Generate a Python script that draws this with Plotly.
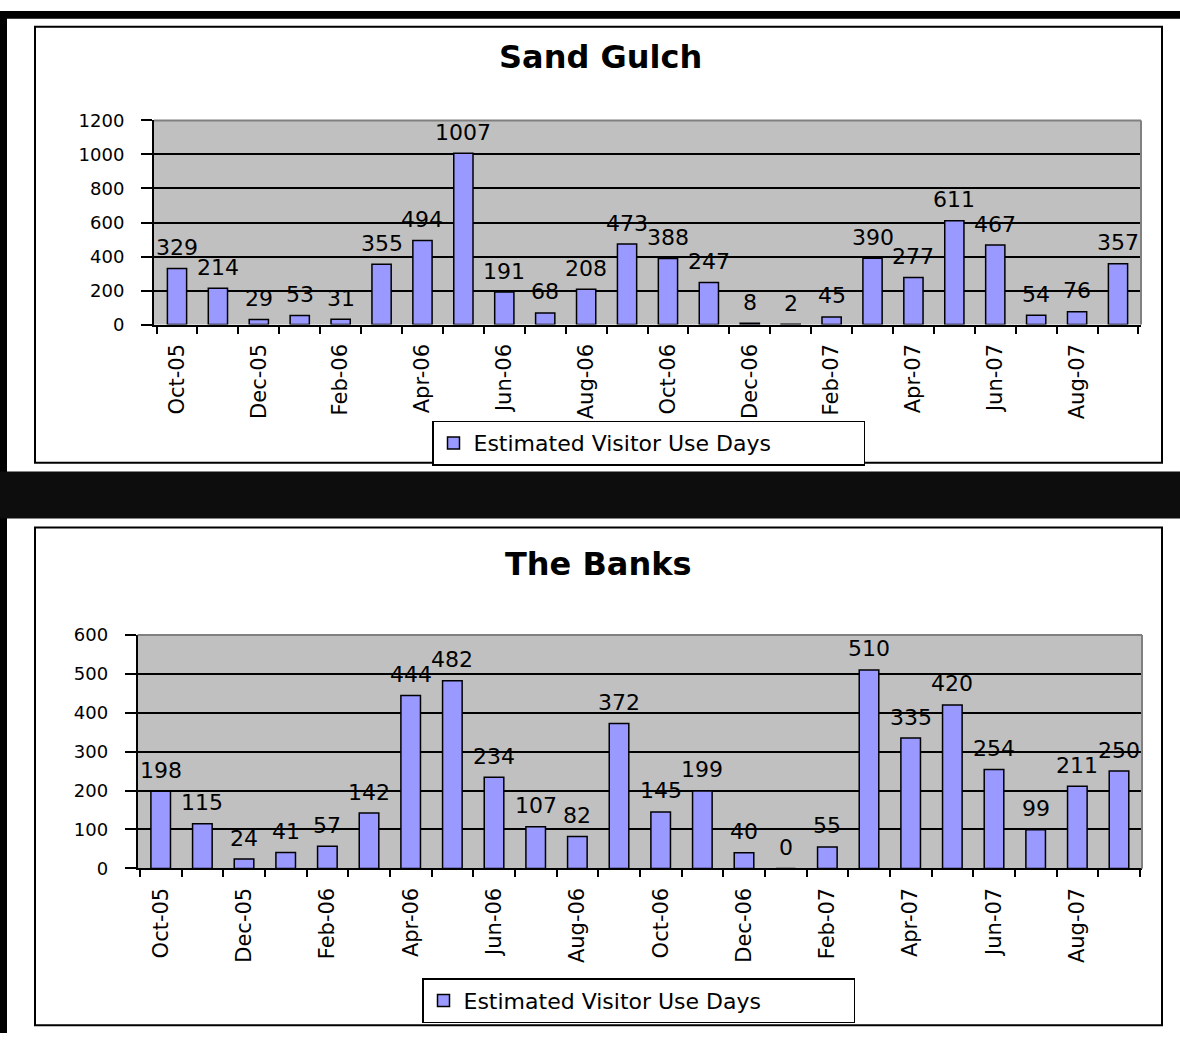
import plotly.graph_objects as go

months = ["Oct-05", "Nov-05", "Dec-05", "Jan-06", "Feb-06", "Mar-06", "Apr-06", "May-06",
          "Jun-06", "Jul-06", "Aug-06", "Sep-06", "Oct-06", "Nov-06", "Dec-06", "Jan-07",
          "Feb-07", "Mar-07", "Apr-07", "May-07", "Jun-07", "Jul-07", "Aug-07", "Sep-07"]
tick_labels = ["Oct-05", "", "Dec-05", "", "Feb-06", "", "Apr-06", "", "Jun-06", "", "Aug-06", "",
               "Oct-06", "", "Dec-06", "", "Feb-07", "", "Apr-07", "", "Jun-07", "", "Aug-07", ""]
sand_gulch = [329, 214, 29, 53, 31, 355, 494, 1007, 191, 68, 208, 473,
              388, 247, 8, 2, 45, 390, 277, 611, 467, 54, 76, 357]
the_banks = [198, 115, 24, 41, 57, 142, 444, 482, 234, 107, 82, 372,
             145, 199, 40, 0, 55, 510, 335, 420, 254, 99, 211, 250]
series_name = "Estimated Visitor Use Days"
titles = ["Sand Gulch", "The Banks"]

W, H = 1180, 1043
FONT = "DejaVu Sans"
BAR_COLOR = "#9999FF"


def px_x(v):
    return v / W


def px_y(v):
    return 1 - v / H


fig = go.Figure()
fig.add_trace(go.Bar(x=months, y=sand_gulch, name=series_name, xaxis="x", yaxis="y",
                     marker=dict(color=BAR_COLOR, line=dict(color="black", width=1.5)),
                     legend="legend", showlegend=True))
fig.add_trace(go.Bar(x=months, y=the_banks, name=series_name, xaxis="x2", yaxis="y2",
                     marker=dict(color=BAR_COLOR, line=dict(color="black", width=1.5)),
                     legend="legend2", showlegend=True))

xcommon = dict(type="category", tickson="boundaries", ticks="outside", ticklen=7,
               tickwidth=2, tickcolor="black", tickvals=months, ticktext=tick_labels,
               tickangle=-90, showline=True, linecolor="black", linewidth=2,
               showgrid=False, ticklabelstandoff=9,
               tickfont=dict(family=FONT, size=21, color="black"), fixedrange=True)
ycommon = dict(ticks="outside", ticklen=11, tickwidth=2, tickcolor="black",
               showline=True, linecolor="black", linewidth=2, showgrid=True,
               gridcolor="black", gridwidth=1.5, zeroline=False, ticklabelstandoff=13,
               tickfont=dict(family=FONT, size=18, color="black"), fixedrange=True)

layout = dict(
    width=W, height=H, autosize=False,
    margin=dict(l=0, r=0, t=0, b=0),
    paper_bgcolor="white", plot_bgcolor="#C0C0C0",
    bargap=0.53, showlegend=True,
    xaxis=dict(domain=[px_x(154), px_x(1141)], anchor="y", **xcommon),
    yaxis=dict(domain=[px_y(320), px_y(111.7)], anchor="x", range=[0, 1200], dtick=200, **ycommon),
    xaxis2=dict(domain=[px_x(137.7), px_x(1142)], anchor="y2", **xcommon),
    yaxis2=dict(domain=[px_y(875), px_y(636.7)], anchor="x2", range=[0, 600], dtick=100, **ycommon),
    legend=dict(x=px_x(432), y=px_y(418), xanchor="left", yanchor="top", orientation="h",
                entrywidth=385, bgcolor="white", bordercolor="black", borderwidth=1.5,
                font=dict(family=FONT, size=22, color="black")),
    legend2=dict(x=px_x(422), y=px_y(987), xanchor="left", yanchor="top", orientation="h",
                 entrywidth=385, bgcolor="white", bordercolor="black", borderwidth=1.5,
                 font=dict(family=FONT, size=22, color="black")),
)
fig.update_layout(**layout)

shapes = []
# outer black frame pieces and separator band
shapes.append(dict(type="rect", xref="paper", yref="paper", x0=0, x1=px_x(7), y0=0, y1=1,
                   fillcolor="#000000", line=dict(width=0), layer="below"))
shapes.append(dict(type="rect", xref="paper", yref="paper", x0=0, x1=1, y0=px_y(8), y1=1,
                   fillcolor="#000000", line=dict(width=0), layer="below"))
shapes.append(dict(type="rect", xref="paper", yref="paper", x0=0, x1=1, y0=px_y(518), y1=px_y(470),
                   fillcolor="#0d0d0d", line=dict(width=0), layer="below"))
# panel boxes
shapes.append(dict(type="rect", xref="paper", yref="paper", x0=px_x(35), x1=px_x(1162),
                   y0=px_y(461), y1=px_y(16), line=dict(color="black", width=2), layer="below"))
shapes.append(dict(type="rect", xref="paper", yref="paper", x0=px_x(35), x1=px_x(1162),
                   y0=px_y(1035), y1=px_y(527), line=dict(color="black", width=2), layer="below"))
# gray top/right plot-area edges
for xa, ya in (("x", "y"), ("x2", "y2")):
    shapes.append(dict(type="line", xref=f"{xa} domain", yref=f"{ya} domain", x0=0, x1=1, y0=1, y1=1,
                       line=dict(color="#808080", width=2), layer="above"))
    shapes.append(dict(type="line", xref=f"{xa} domain", yref=f"{ya} domain", x0=1, x1=1, y0=0, y1=1,
                       line=dict(color="#808080", width=2), layer="above"))
fig.update_layout(shapes=shapes)

annotations = []
for xa, ya, vals in (("x", "y", sand_gulch), ("x2", "y2", the_banks)):
    for m, v in zip(months, vals):
        annotations.append(dict(x=m, y=v, xref=xa, yref=ya, text=str(v), showarrow=False,
                                yanchor="middle", yshift=21,
                                font=dict(family=FONT, size=22, color="black")))
annotations.append(dict(x=px_x(600), y=px_y(47), xref="paper", yref="paper", text=f"<b>{titles[0]}</b>",
                        showarrow=False, xanchor="center", yanchor="middle",
                        font=dict(family=FONT, size=32, color="black")))
annotations.append(dict(x=px_x(598), y=px_y(564), xref="paper", yref="paper", text=f"<b>{titles[1]}</b>",
                        showarrow=False, xanchor="center", yanchor="middle",
                        font=dict(family=FONT, size=32, color="black")))
fig.update_layout(annotations=annotations)

fig.write_html("out.html", config={"displayModeBar": False},
               post_script="document.body.style.margin='0';document.body.style.overflow='hidden';")
